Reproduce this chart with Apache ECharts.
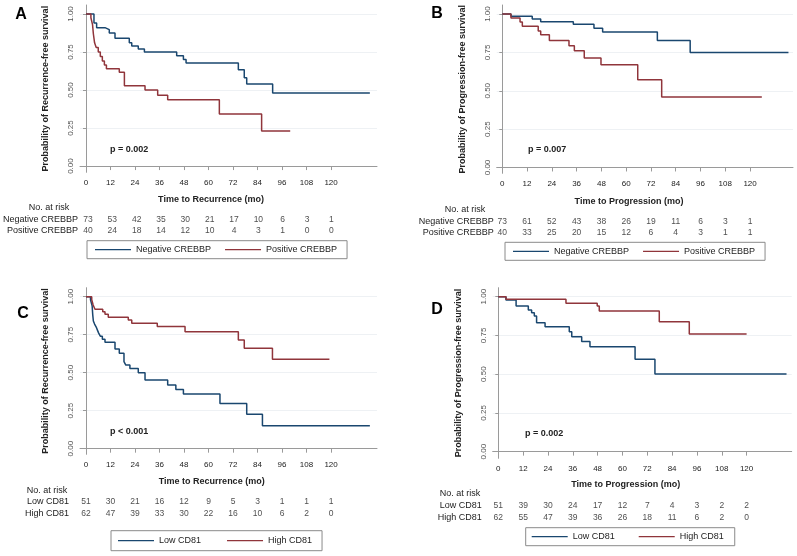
<!DOCTYPE html>
<html>
<head>
<meta charset="utf-8">
<script src="https://cdn.jsdelivr.net/npm/echarts@6/dist/echarts.min.js"></script>
<style>
  html, body { margin: 0; padding: 0; background: #fff; }
  #chart { width: 797px; height: 556px; }
</style>
</head>
<body>
<div id="chart"></div>
<script>
// time points of the risk table / x tick labels
const months = [0, 12, 24, 36, 48, 60, 72, 84, 96, 108, 120];
const probTicks = [0, 0.25, 0.5, 0.75, 1];

// A: recurrence-free survival by CREBBP  [month, probability]
const recNegCrebbp = [[0,1],[3.9,0.94],[5.2,0.91],[9.3,0.897],[11.4,0.875],[14.2,0.84],[21.2,0.81],[22.4,0.79],[25.6,0.77],[28.6,0.75],[44.4,0.726],[47.7,0.70],[49,0.678],[74.6,0.634],[77.5,0.58],[78.7,0.54],[91.4,0.48],[139,0.48]];
const recPosCrebbp = [[0,1],[2.4,0.975],[3.2,0.93],[3.6,0.87],[4.2,0.81],[5,0.78],[6,0.75],[7,0.72],[8,0.69],[9,0.665],[10,0.64],[16.3,0.617],[18.8,0.528],[28.9,0.50],[35.1,0.465],[40,0.436],[65.3,0.342],[86,0.23],[100,0.23]];
const recRiskNegCrebbp = [73, 53, 42, 35, 30, 21, 17, 10, 6, 3, 1];
const recRiskPosCrebbp = [40, 24, 18, 14, 12, 10, 4, 3, 1, 0, 0];

// B: progression-free survival by CREBBP
const progNegCrebbp = [[0,1],[4.2,0.985],[14.5,0.967],[18.6,0.95],[34.4,0.933],[44.4,0.907],[48.6,0.883],[75.1,0.828],[91,0.75],[138.6,0.75]];
const progPosCrebbp = [[0,1],[4.2,0.974],[8.6,0.948],[9.7,0.92],[17.4,0.89],[18.6,0.865],[22.8,0.828],[32.3,0.793],[34.9,0.76],[39.7,0.713],[47.8,0.67],[65.6,0.571],[77.2,0.459],[125.7,0.459]];
const progRiskNegCrebbp = [73, 61, 52, 43, 38, 26, 19, 11, 6, 3, 1];
const progRiskPosCrebbp = [40, 33, 25, 20, 15, 12, 6, 4, 3, 1, 1];

// C: recurrence-free survival by CD81
const recLowCd81 = [[0,1],[2.2,0.98],[3,0.94],[3.3,0.88],[3.6,0.84],[4.2,0.82],[5,0.80],[5.6,0.78],[6.2,0.76],[7,0.74],[8,0.72],[9.3,0.70],[14.2,0.655],[16.3,0.627],[18.6,0.572],[19.5,0.55],[21.5,0.528],[25.6,0.50],[28.9,0.452],[40,0.419],[44,0.39],[47.7,0.36],[65.6,0.298],[78.7,0.226],[86.4,0.151],[139,0.151]];
const recHighCd81 = [[0,1],[2.8,0.98],[3.5,0.945],[4.4,0.917],[8.2,0.90],[9.3,0.884],[10.9,0.864],[20.7,0.847],[22.4,0.825],[34.9,0.803],[48.5,0.77],[74.6,0.715],[77.5,0.66],[91.3,0.588],[119.2,0.588]];
const recRiskLowCd81 = [51, 30, 21, 16, 12, 9, 5, 3, 1, 1, 1];
const recRiskHighCd81 = [62, 47, 39, 33, 30, 22, 16, 10, 6, 2, 0];

// D: progression-free survival by CD81
const progLowCd81 = [[0,1],[3.7,0.979],[8.6,0.94],[14.5,0.914],[16.1,0.897],[17.4,0.875],[18.5,0.832],[22.6,0.806],[34.3,0.774],[35.5,0.742],[40.3,0.71],[44.3,0.677],[66.1,0.596],[75.7,0.501],[139.3,0.501]];
const progHighCd81 = [[0,1],[3.7,0.984],[32.7,0.957],[47.8,0.94],[48.8,0.908],[77.8,0.839],[92.3,0.76],[120,0.76]];
const progRiskLowCd81 = [51, 39, 30, 24, 17, 12, 7, 4, 3, 2, 2];
const progRiskHighCd81 = [62, 55, 47, 39, 36, 26, 18, 11, 6, 2, 0];

const NAVY = '#1a476f';
const MAROON = '#90353b';
const AXIS = '#9a9a9a';
const FONT = 'Liberation Sans, Arial, sans-serif';
// thin line legend icon; the extra moveTo points keep the 36x10 bounding box
const LINE_ICON = 'path://M0,0M36,10M0,4.4L36,4.4L36,5.6L0,5.6Z';

// layout of each panel (pixels)
const panels = [
  { letter: 'A', lx: 21, ly: 15, left: 80, top: 5, width: 297, height: 167.3, xMin: -2.94, xMax: 142.5, yMin: -0.041, yMax: 1.059,
    yName: 'Probability of Recurrence-free survival', xName: 'Time to Recurrence (mo)', xNameX: 211, xNameY: 199.3,
    pText: 'p = 0.002', pX: 110, pY: 150, riskX: 49, riskY: 207.3, riskTop: 213.6, riskH: 22.8, rowMargin: 4,
    groups: ['Negative CREBBP', 'Positive CREBBP'], curves: [recNegCrebbp, recPosCrebbp], risk: [recRiskNegCrebbp, recRiskPosCrebbp],
    legend: { left: 87, top: 240.7, gap: 14, pad: [4, 10, 4, 8] } },
  { letter: 'B', lx: 437, ly: 14, left: 496.7, top: 5, width: 296.3, height: 168.3, xMin: -2.71, xMax: 140.8, yMin: -0.038, yMax: 1.059,
    yName: 'Probability of Progression-free survival', xName: 'Time to Progression (mo)', xNameX: 629, xNameY: 201.7,
    pText: 'p = 0.007', pX: 528, pY: 150, riskX: 465, riskY: 209.3, riskTop: 216.2, riskH: 22, rowMargin: 3,
    groups: ['Negative CREBBP', 'Positive CREBBP'], curves: [progNegCrebbp, progPosCrebbp], risk: [progRiskNegCrebbp, progRiskPosCrebbp],
    legend: { left: 505, top: 242.3, gap: 14, pad: [4, 10, 4, 8] } },
  { letter: 'C', lx: 23, ly: 314, left: 80, top: 287.7, width: 297, height: 166.6, xMin: -2.94, xMax: 142.5, yMin: -0.037, yMax: 1.059,
    yName: 'Probability of Recurrence-free survival', xName: 'Time to Recurrence (mo)', xNameX: 211.7, xNameY: 481.7,
    pText: 'p < 0.001', pX: 110, pY: 431.7, riskX: 47, riskY: 490.7, riskTop: 495.9, riskH: 23.2, rowMargin: 11,
    groups: ['Low CD81', 'High CD81'], curves: [recLowCd81, recHighCd81], risk: [recRiskLowCd81, recRiskHighCd81],
    legend: { left: 111, top: 530.7, gap: 26, pad: [5, 10, 5, 7] } },
  { letter: 'D', lx: 437, ly: 309.3, left: 492.7, top: 287.7, width: 299, height: 170.6, xMin: -2.71, xMax: 141.8, yMin: -0.043, yMax: 1.058,
    yName: 'Probability of Progression-free survival', xName: 'Time to Progression (mo)', xNameX: 625.7, xNameY: 485,
    pText: 'p = 0.002', pX: 525, pY: 434, riskX: 460, riskY: 493.3, riskTop: 499.9, riskH: 23.2, rowMargin: 11,
    groups: ['Low CD81', 'High CD81'], curves: [progLowCd81, progHighCd81], risk: [progRiskLowCd81, progRiskHighCd81],
    legend: { left: 525.7, top: 527.7, gap: 24, pad: [4, 11, 4, 6] } }
];

const grid = [], xAxis = [], yAxis = [], series = [], legend = [], graphic = [];

panels.forEach((p, i) => {
  const g = i * 2;      // plot grid
  const r = i * 2 + 1;  // risk table grid

  grid.push({ left: p.left, top: p.top, width: p.width, height: p.height });
  grid.push({ left: p.left, top: p.riskTop, width: p.width, height: p.riskH });

  xAxis.push({
    type: 'value', gridIndex: g, min: p.xMin, max: p.xMax,
    axisLine: { show: true, lineStyle: { color: AXIS, width: 1 } },
    axisTick: { show: true, customValues: months, length: 4, lineStyle: { color: AXIS } },
    axisLabel: { customValues: months, fontSize: 8, color: '#222', margin: 6 },
    splitLine: { show: false }
  });
  xAxis.push({ type: 'value', gridIndex: r, min: p.xMin, max: p.xMax, show: false });

  yAxis.push({
    type: 'value', gridIndex: g, min: p.yMin, max: p.yMax,
    name: p.yName, nameLocation: 'middle', nameGap: 30, nameRotate: 90,
    nameTextStyle: { fontWeight: 'bold', fontSize: 9, color: '#222' },
    axisLine: { show: true, lineStyle: { color: AXIS, width: 1 } },
    axisTick: { show: true, customValues: probTicks, length: 3, lineStyle: { color: AXIS } },
    axisLabel: { customValues: probTicks, rotate: 90, fontSize: 8, color: '#555', margin: 5,
      formatter: v => v.toFixed(2) },
    splitLine: { show: true, lineStyle: { color: '#eef1f4', width: 1 } }
  });
  yAxis.push({
    type: 'category', gridIndex: r, data: p.groups, inverse: true,
    axisLine: { show: false }, axisTick: { show: false },
    axisLabel: { interval: 0, fontSize: 9, color: '#222', margin: p.rowMargin }
  });

  p.curves.forEach((c, k) => {
    series.push({
      name: p.groups[k], type: 'line', step: 'end', xAxisIndex: g, yAxisIndex: g,
      data: c, symbol: 'none', silent: true,
      lineStyle: { color: k === 0 ? NAVY : MAROON, width: 1.5 },
      itemStyle: { color: k === 0 ? NAVY : MAROON }
    });
  });

  p.risk.forEach((row, k) => {
    series.push({
      name: 'risk-' + p.letter + k, type: 'scatter', xAxisIndex: r, yAxisIndex: r,
      data: months.map((m, j) => [m, p.groups[k], row[j]]),
      symbolSize: 1, silent: true,
      itemStyle: { color: 'rgba(0,0,0,0)' },
      label: { show: true, position: 'inside', fontSize: 8.5, color: '#222', formatter: d => d.value[2] }
    });
  });

  legend.push({
    data: p.groups, left: p.legend.left, top: p.legend.top, orient: 'horizontal',
    icon: LINE_ICON, itemWidth: 36, itemHeight: 10, itemGap: p.legend.gap, padding: p.legend.pad,
    borderColor: '#8a8a8a', borderWidth: 1, selectedMode: false,
    textStyle: { fontSize: 9, color: '#222' }
  });

  graphic.push(
    { type: 'text', x: p.lx, y: p.ly, style: { text: p.letter, fontSize: 16, fontWeight: 'bold', fontFamily: FONT, fill: '#000', align: 'center', verticalAlign: 'middle' } },
    { type: 'text', x: p.pX, y: p.pY, style: { text: p.pText, fontSize: 9, fontWeight: 'bold', fontFamily: FONT, fill: '#222', align: 'left', verticalAlign: 'middle' } },
    { type: 'text', x: p.xNameX, y: p.xNameY, style: { text: p.xName, fontSize: 9, fontWeight: 'bold', fontFamily: FONT, fill: '#222', align: 'center', verticalAlign: 'middle' } },
    { type: 'text', x: p.riskX, y: p.riskY, style: { text: 'No. at risk', fontSize: 9, fontFamily: FONT, fill: '#222', align: 'center', verticalAlign: 'middle' } }
  );
});

const chart = echarts.init(document.getElementById('chart'));
chart.setOption({
  backgroundColor: '#fff',
  animation: false,
  textStyle: { fontFamily: FONT },
  grid, xAxis, yAxis, series, legend, graphic
});
</script>
</body>
</html>
